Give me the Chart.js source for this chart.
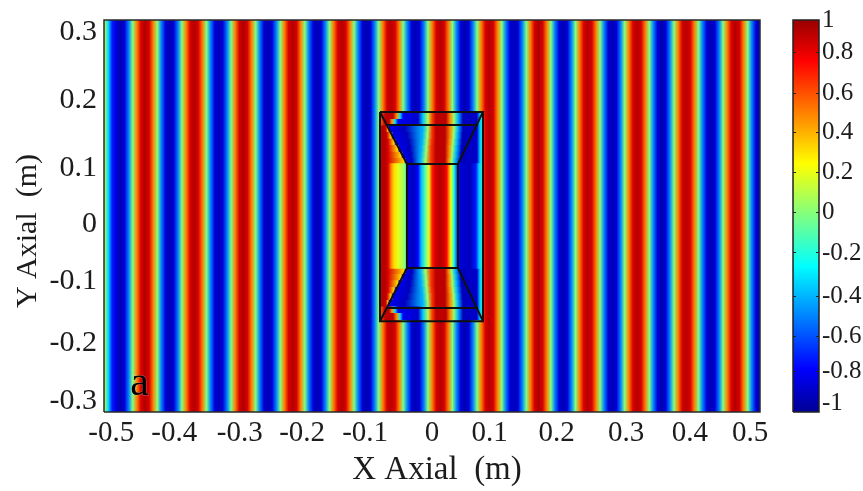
<!DOCTYPE html>
<html>
<head>
<meta charset="utf-8">
<title>Field map</title>
<script src="https://cdn.jsdelivr.net/npm/chart.js@4"></script>
<style>
  body { margin: 0; background: #fff; }
  #wrap { position: relative; width: 863px; height: 491px; overflow: hidden; }
  canvas { position: absolute; top: 0; }
</style>
</head>
<body>
<div id="wrap">
  <canvas id="field" width="863" height="491" style="left:0"></canvas>
  <canvas id="bar" width="78" height="491" style="left:785px"></canvas>
</div>
<script>
// tick labels, the printed ones sit a bit off the true values
const xTickLabels = ["-0.5", "-0.4", "-0.3", "-0.2", "-0.1", "0", "0.1", "0.2", "0.3", "0.4", "0.5"];
const xTickVals = [-0.489, -0.393, -0.293, -0.198, -0.102, 0, 0.088, 0.19, 0.296, 0.393, 0.485];
const yTickLabels = ["0.3", "0.2", "0.1", "0", "-0.1", "-0.2", "-0.3"];
const yTickVals = [0.281, 0.178, 0.074, -0.013, -0.099, -0.194, -0.283];
const barTickLabels = ["1", "0.8", "0.6", "0.4", "0.2", "0", "-0.2", "-0.4", "-0.6", "-0.8", "-1"];
const barTickVals = [0.95, 0.79, 0.59, 0.4, 0.205, 0.01, -0.185, -0.395, -0.59, -0.761, -0.917];
const barLevels = [-1, -0.875, -0.75, -0.625, -0.5, -0.375, -0.25, -0.125, 0, 0.125, 0.25, 0.375, 0.5, 0.625, 0.75, 0.875, 1];

// field outside the cloak, one value per column, columns every 0.00625 m from x = -0.5
const fieldVal = [
  0.15, -0.3, -0.7, -0.82, -0.9, -0.82, -0.5, 0, 0.5, 0.82,
  0.9, 0.83, 0.5, 0.02, -0.5, -0.82, -0.9, -0.83, -0.51, 0, 0.49, 0.82,
  0.9, 0.82, 0.51, 0, -0.49, -0.82, -0.89, -0.82, -0.5, -0.02, 0.5, 0.83,
  0.91, 0.82, 0.5, 0, -0.5, -0.83, -0.9, -0.82, -0.5, 0, 0.5, 0.82,
  0.9, 0.83, 0.49, 0, -0.51, -0.82, -0.9, -0.82, -0.49, 0.02, 0.51, 0.82,
  0.9, 0.82, 0.5, 0, -0.5, -0.82, -0.91, -0.83, -0.5, 0, 0.5, 0.83,
  0.89, 0.82, 0.5, -0.02, -0.5, -0.82, -0.9, -0.82, -0.51, 0, 0.49, 0.82,
  0.9, 0.83, 0.51, 0, -0.49, -0.83, -0.9, -0.83, -0.5, 0, 0.5, 0.82,
  0.9, 0.82, 0.49, 0.02, -0.5, -0.82, -0.89, -0.82, -0.5, -0.02, 0.5, 0.83,
  0.91, 0.83, 0.5, 0, -0.51, -0.82, -0.9, -0.83, -0.49, 0, 0.51, 0.82,
  0.9, 0.82, 0.5, 0, -0.5, -0.83, -0.9, -0.82, -0.5, 0.02, 0.5, 0.82,
  0.9, 0.83, 0.51, 0, -0.49, -0.82, -0.91, -0.82, -0.5, 0, 0.49, 0.83,
  0.89, 0.82, 0.5, -0.02, -0.5, -0.82, -0.9, -0.83, -0.51, 0, 0.5, 0.82,
  0.9, 0.83, 0.5, 0, -0.5, -0.82, -0.9
];
const colStart = -0.5;
const colStep = 0.00625;

// straight part of the cloak, y between -midHalf and midHalf
const midHalf = 0.0796;
const midX = [-0.0777, -0.0716, -0.0671, -0.0625, -0.0579, -0.0518, -0.0457, -0.0411, -0.0389, -0.0366, -0.029, -0.0213, -0.0168, -0.0107, -0.0046, 0, 0.0046, 0.0122, 0.0198, 0.0229, 0.0259, 0.029, 0.0335, 0.0381, 0.0427, 0.0579, 0.0671, 0.0716, 0.0777];
const midVal = [0.88, 0.9, 0.82, 0.5, 0.32, 0.2, 0.1, 0.03, -0.4, -0.8, -0.88, -0.75, -0.4, -0.1, 0.2, 0.68, 0.82, 0.9, 0.82, 0.72, 0.45, 0.2, -0.2, -0.6, -0.82, -0.88, -0.7, -0.35, -0.15];

// tapered caps, the same rows are used above and below the middle
const capEdges = [0.1593, 0.1493, 0.1394, 0.1294, 0.1194, 0.1095, 0.0995, 0.0896, 0.0796];
const cornerVal = [0.6, 0.88, 0.88, 0.45, -0.3, -0.78, -0.85, -0.35, 0.1, 0.62, 0.88, 0.88, 0.5, 0.05, -0.4, -0.88, -0.85, -0.35, -0.15];
const taperVal = [0.88, 0.9, 0.82, 0.33, -0.78, -0.88, -0.4, 0.05, 0.65, 0.88, 0.88, 0.5, 0.05, -0.4, -0.88, -0.85, -0.35, -0.15];
const capRows = [
  { val: cornerVal, x: [-0.0777, -0.0716, -0.0594, -0.0533, -0.0488, -0.0442, -0.0213, -0.0137, -0.0061, 0, 0.0061, 0.0213, 0.0274, 0.0335, 0.0396, 0.0472, 0.0686, 0.0732, 0.0777] },
  { val: cornerVal, x: [-0.0777, -0.0716, -0.0655, -0.061, -0.0564, -0.0518, -0.0213, -0.0137, -0.0061, 0, 0.0061, 0.0213, 0.0274, 0.0335, 0.0396, 0.0472, 0.0686, 0.0732, 0.0777] },
  { val: taperVal, x: [-0.0777, -0.0732, -0.0701, -0.0671, -0.0648, -0.0411, -0.0137, -0.0061, 0, 0.0061, 0.0198, 0.0274, 0.0335, 0.0396, 0.0472, 0.0686, 0.0732, 0.0777] },
  { val: taperVal, x: [-0.0777, -0.0716, -0.0686, -0.0625, -0.0594, -0.0381, -0.0145, -0.0069, 0, 0.0061, 0.0198, 0.0274, 0.0328, 0.0389, 0.0465, 0.0686, 0.0732, 0.0777] },
  { val: taperVal, x: [-0.0777, -0.0716, -0.0671, -0.0579, -0.0549, -0.0351, -0.0152, -0.0076, -0.0008, 0.0061, 0.0198, 0.0267, 0.032, 0.0381, 0.0457, 0.0686, 0.0732, 0.0777] },
  { val: taperVal, x: [-0.0777, -0.0716, -0.0671, -0.0526, -0.0495, -0.0335, -0.016, -0.0084, -0.0015, 0.0061, 0.0198, 0.0259, 0.0312, 0.0373, 0.045, 0.0686, 0.0732, 0.0777] },
  { val: taperVal, x: [-0.0777, -0.0716, -0.0671, -0.0472, -0.0442, -0.032, -0.0168, -0.0091, -0.0015, 0.0061, 0.0198, 0.0259, 0.0305, 0.0366, 0.0442, 0.0686, 0.0732, 0.0777] },
  { val: taperVal, x: [-0.0777, -0.0716, -0.0671, -0.0427, -0.0396, -0.0305, -0.0175, -0.0099, -0.0015, 0.0061, 0.0198, 0.0251, 0.0297, 0.0358, 0.0434, 0.0686, 0.0732, 0.0777] }
];

// wire frame of the cloak, null breaks the line
const frameX = [-0.0793, 0.0777, 0.0777, -0.0793, -0.0793, null,
  -0.0686, 0.0701, null, -0.0686, 0.0701, null,
  -0.0381, 0.0396, 0.0396, -0.0381, -0.0381, null,
  -0.0793, -0.0381, null, 0.0777, 0.0396, null, -0.0793, -0.0381, null, 0.0777, 0.0396];
const frameY = [0.1593, 0.1593, -0.161, -0.161, 0.1593, null,
  0.1394, 0.1394, null, -0.1408, -0.1408, null,
  0.0796, 0.0796, -0.0796, -0.0796, 0.0796, null,
  0.1593, 0.0796, null, 0.1593, 0.0796, null, -0.161, -0.0796, null, -0.161, -0.0796];

const xLimits = [-0.5, 0.5];
const yLimits = [-0.3, 0.3];
const barLimits = [-0.96, 0.95];

const serif = "'Liberation Serif', serif";
const inkColor = "#1c1c1c";

function jetColor(v) {
  let t = (v + 1) / 2;
  let r = Math.max(0, Math.min(1, 1.5 - Math.abs(4 * t - 3)));
  let g = Math.max(0, Math.min(1, 1.5 - Math.abs(4 * t - 2)));
  let b = Math.max(0, Math.min(1, 1.5 - Math.abs(4 * t - 1)));
  return `rgb(${Math.round(r * 255)},${Math.round(g * 255)},${Math.round(b * 255)})`;
}

// horizontal gradient whose stops sit on the x scale
function stripeFill(xs, vals) {
  return function (context) {
    let chart = context.chart;
    if (!chart.chartArea) return "transparent";
    let scale = chart.scales.x;
    let x0 = scale.getPixelForValue(xs[0]);
    let x1 = scale.getPixelForValue(xs[xs.length - 1]);
    let grad = chart.ctx.createLinearGradient(x0, 0, x1, 0);
    xs.forEach((x, i) => {
      grad.addColorStop((scale.getPixelForValue(x) - x0) / (x1 - x0), jetColor(vals[i]));
    });
    return grad;
  };
}

function band(xs, vals, yTop, yBottom) {
  return {
    data: xs.map(x => ({ x: x, y: yTop })),
    fill: { value: yBottom },
    backgroundColor: stripeFill(xs, vals),
    borderWidth: 0,
    pointRadius: 0
  };
}

// first dataset ends up on top
let datasets = [];
datasets.push({
  data: [{ x: xLimits[0], y: yLimits[0] }, { x: xLimits[0], y: yLimits[1] }, { x: xLimits[1], y: yLimits[1] }, { x: xLimits[1], y: yLimits[0] }, { x: xLimits[0], y: yLimits[0] }],
  borderColor: "#2a2a2a", borderWidth: 1.5, pointRadius: 0, fill: false, clip: false
});
datasets.push({
  data: frameX.map((x, i) => ({ x: x, y: frameY[i] })),
  borderColor: "#101010", borderWidth: 2, pointRadius: 0, fill: false, spanGaps: false
});
datasets.push(band(midX, midVal, midHalf + 0.001, -midHalf - 0.001));
capRows.forEach((row, i) => {
  datasets.push(band(row.x, row.val, capEdges[i], capEdges[i + 1] - 0.001));
  datasets.push(band(row.x, row.val, -capEdges[i], -capEdges[i + 1] + 0.001));
});
let fieldX = fieldVal.map((v, i) => colStart + i * colStep);
datasets.push(band(fieldX, fieldVal, yLimits[1], yLimits[0]));

const fieldNotes = {
  id: "fieldNotes",
  afterDraw(chart) {
    let ctx = chart.ctx;
    ctx.save();
    ctx.fillStyle = "#000";
    ctx.textBaseline = "alphabetic";
    ctx.font = "42px " + serif;
    ctx.textAlign = "left";
    ctx.strokeStyle = "rgba(255,255,255,0.3)";
    ctx.lineWidth = 1;
    ctx.strokeText("a", chart.scales.x.getPixelForValue(-0.46), chart.scales.y.getPixelForValue(-0.274));
    ctx.fillText("a", chart.scales.x.getPixelForValue(-0.46), chart.scales.y.getPixelForValue(-0.274));
    ctx.fillStyle = inkColor;
    ctx.textAlign = "center";
    ctx.font = "33px " + serif;
    ctx.fillText("X Axial  (m)", 437, 479);
    ctx.font = "30px " + serif;
    ctx.translate(36, 231);
    ctx.rotate(-Math.PI / 2);
    ctx.fillText("Y Axial  (m)", 0, 0);
    ctx.restore();
  }
};

new Chart(document.getElementById("field"), {
  type: "line",
  data: { datasets: datasets },
  options: {
    responsive: false,
    animation: false,
    devicePixelRatio: 1,
    layout: { padding: { top: 20, right: 103 } },
    plugins: { legend: { display: false }, tooltip: { enabled: false } },
    scales: {
      x: {
        type: "linear",
        min: xLimits[0],
        max: xLimits[1],
        grid: { display: false, drawTicks: false },
        border: { display: false },
        afterBuildTicks: scale => { scale.ticks = xTickVals.map(v => ({ value: v })); },
        afterFit: scale => { scale.height = 79; scale.paddingLeft = 0; scale.paddingRight = 0; },
        ticks: {
          autoSkip: false, maxRotation: 0, padding: 4, color: inkColor,
          font: { family: serif, size: 29 },
          callback: (v, i) => xTickLabels[i]
        }
      },
      y: {
        type: "linear",
        min: yLimits[0],
        max: yLimits[1],
        grid: { display: false, drawTicks: false },
        border: { display: false },
        afterBuildTicks: scale => { scale.ticks = yTickVals.map(v => ({ value: v })); },
        afterFit: scale => { scale.width = 104; scale.paddingTop = 0; scale.paddingBottom = 0; },
        ticks: {
          autoSkip: false, padding: 7, color: inkColor,
          font: { family: serif, size: 30 },
          callback: (v, i) => yTickLabels[i]
        }
      }
    }
  },
  plugins: [fieldNotes]
});

// colour bar
new Chart(document.getElementById("bar"), {
  type: "line",
  data: {
    datasets: [
      {
        data: [{ x: 0, y: barLimits[0] }, { x: 0, y: barLimits[1] }, { x: 1, y: barLimits[1] }, { x: 1, y: barLimits[0] }, { x: 0, y: barLimits[0] }],
        borderColor: "#222", borderWidth: 1.5, pointRadius: 0, fill: false, clip: false
      },
      {
        data: [{ x: 0, y: barLimits[1] }, { x: 1, y: barLimits[1] }],
        fill: { value: barLimits[0] },
        borderWidth: 0,
        pointRadius: 0,
        backgroundColor: context => {
          let chart = context.chart;
          if (!chart.chartArea) return "transparent";
          let scale = chart.scales.y;
          let y0 = scale.getPixelForValue(barLevels[0]);
          let y1 = scale.getPixelForValue(barLevels[barLevels.length - 1]);
          let grad = chart.ctx.createLinearGradient(0, y0, 0, y1);
          barLevels.forEach((v, i) => grad.addColorStop(i / (barLevels.length - 1), jetColor(v)));
          return grad;
        }
      }
    ]
  },
  options: {
    responsive: false,
    animation: false,
    devicePixelRatio: 1,
    layout: { padding: { top: 20, left: 8 } },
    plugins: { legend: { display: false }, tooltip: { enabled: false } },
    scales: {
      x: { type: "linear", min: 0, max: 1, display: false, afterFit: scale => { scale.height = 79; } },
      y: {
        type: "linear",
        position: "right",
        min: barLimits[0],
        max: barLimits[1],
        border: { display: false, dash: [3, 20] },
        grid: {
          z: 1,
          drawTicks: false,
          color: c => (c.index === 0 || c.index === barTickVals.length - 1) ? "transparent" : "#222"
        },
        afterBuildTicks: scale => { scale.ticks = barTickVals.map(v => ({ value: v })); },
        afterFit: scale => { scale.width = 44; scale.paddingTop = 0; scale.paddingBottom = 0; },
        ticks: {
          autoSkip: false, padding: 3, color: inkColor,
          font: { family: serif, size: 25 },
          callback: (v, i) => barTickLabels[i]
        }
      }
    }
  }
});
</script>
</body>
</html>
